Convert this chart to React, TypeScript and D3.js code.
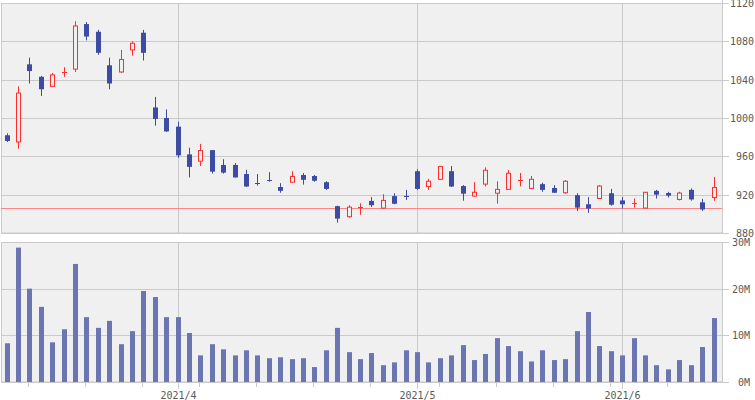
import React from "react";
import * as d3 from "d3";

// trading days (2021), one per candle
const dates = [
  "03-11", "03-12", "03-15", "03-16", "03-17", "03-18", "03-19", "03-22", "03-23", "03-24",
  "03-25", "03-26", "03-29", "03-30", "03-31", "04-01", "04-02", "04-05", "04-06", "04-07",
  "04-08", "04-09", "04-12", "04-13", "04-14", "04-15", "04-16", "04-19", "04-20", "04-21",
  "04-22", "04-23", "04-26", "04-27", "04-28", "04-30", "05-06", "05-07", "05-10", "05-11",
  "05-12", "05-13", "05-14", "05-17", "05-18", "05-19", "05-20", "05-21", "05-24", "05-25",
  "05-26", "05-27", "05-28", "05-31", "06-01", "06-02", "06-03", "06-04", "06-07", "06-08",
  "06-09", "06-10", "06-11",
];
const opens = [
  982, 975, 1056, 1043, 1033, 1048, 1051, 1098, 1090, 1055,
  1048, 1071, 1089, 1011, 1000, 991, 962, 955, 966.5, 951,
  951, 941.5, 932.5, 935.5, 928, 933, 940.5, 939.5, 933, 908,
  897, 906.5, 913.5, 906, 918.5, 918.5, 944.5, 928.5, 936, 944.5,
  929, 918.5, 931, 921.5, 925.5, 935, 926.5, 931, 927, 922,
  919.5, 910, 916, 921.5, 914, 911, 906, 924, 921.7, 915,
  925, 912, 917,
];
const highs = [
  984, 1033, 1063, 1044, 1047, 1053, 1101, 1100, 1092, 1063,
  1071, 1080, 1092, 1022, 1009, 996, 969, 973, 966.5, 957,
  953, 946, 941.5, 943.5, 932, 944.5, 942.5, 940.5, 934, 908.5,
  909, 911, 917.5, 920.5, 921.5, 925, 946.5, 936.5, 950, 950,
  930, 933, 948.5, 934, 945.7, 942.6, 939.5, 932.5, 930, 935.3,
  921.5, 917.5, 930, 926, 917.5, 916, 922.5, 925, 923, 923,
  926.5, 915.5, 938.5,
];
const lows = [
  975, 968, 1036, 1023, 1032.5, 1043, 1048, 1081, 1066, 1030,
  1047, 1065, 1060, 992, 985.5, 958.5, 938, 950, 942, 942,
  937.7, 928, 929.5, 933.5, 922, 933, 930.5, 933.5, 925, 890.7,
  896, 899, 907, 905.5, 910, 914.5, 925, 925, 935.5, 928,
  913.7, 918, 928.7, 910.6, 925, 928.7, 926, 923, 922, 921,
  903, 901, 916, 908.5, 905.5, 906.5, 905.8, 916, 917, 914,
  913.7, 903, 913.7,
];
const closes = [
  976, 1026, 1049, 1030, 1045, 1048.5, 1096, 1085, 1068, 1036,
  1061, 1078, 1068, 999, 986, 961, 949, 966, 944, 943,
  938, 928.5, 932, 935, 924, 939, 935.5, 934.5, 926, 895,
  907, 907, 909, 914, 910.5, 918, 926, 934, 949.5, 928.5,
  921, 922.5, 945.5, 925.5, 942.3, 935.3, 936, 925, 922, 934,
  906.5, 905.5, 929, 909.5, 910, 911.3, 922.5, 920, 919, 921.7,
  915, 904.5, 927.5,
];
// volume, millions of shares
const volumes = [
  8.3, 28.8, 20.0, 16.1, 8.5, 11.3, 25.3, 13.9, 11.6, 13.1,
  8.1, 10.9, 19.5, 18.2, 13.9, 13.9, 10.5, 5.7, 8.1, 7.0,
  5.7, 6.8, 5.7, 5.1, 5.3, 4.9, 5.1, 3.2, 6.8, 11.6,
  6.4, 4.9, 6.2, 3.6, 4.2, 6.8, 6.4, 4.2, 5.1, 5.7,
  7.9, 4.7, 6.0, 9.4, 7.7, 6.6, 4.4, 6.8, 4.7, 4.9,
  10.9, 15.0, 7.7, 6.6, 5.7, 9.4, 5.7, 3.6, 2.7, 4.7,
  3.6, 7.5, 13.7,
];
const priceTicks = [880, 920, 960, 1000, 1040, 1080, 1120];
const volTicks = [0, 10, 20, 30];
const refLine = 906;

const UP = "#ff2e2e";
const DOWN = "#3d4ca2";
const VOL = "#6b75b1";
const BG = "#f0f0f0";
const GRID = "#cacaca";
const TXT = "#5a5a5a";

function App() {
  const left = 1, right = 722;
  const x = d3.scaleLinear().domain([0, dates.length - 1]).range([6.5, 713.5]);
  const yP = d3.scaleLinear().domain([880, 1120]).range([233, 3]);
  const yV = d3.scaleLinear().domain([0, 30]).range([382, 242]);
  const cx = (i: number) => Math.round(x(i));

  const parsed = dates.map(d => new Date(`2021-${d}T00:00:00`));
  const monthStarts: number[] = [];
  const weekStarts: number[] = [];
  parsed.forEach((d, i) => {
    if (i === 0) return;
    const p = parsed[i - 1];
    if (d.getMonth() !== p.getMonth()) monthStarts.push(i);
    else if (d.getDay() < p.getDay()) weekStarts.push(i);
  });

  const font = { fontFamily: "'DejaVu Sans Mono', monospace", fontSize: 10, fill: TXT };

  return (
    <svg width={755} height={400} style={{ position: "absolute", left: 0, top: 0 }}>
      {/* price panel */}
      <rect x={left + 0.5} y={3.5} width={right - left} height={229.5} fill={BG} stroke={GRID} />
      {priceTicks.map(t => {
        const y = Math.round(yP(t)) + 0.5;
        return (
          <g key={t}>
            <line x1={left} x2={729} y1={y} y2={y} stroke={GRID} />
            <text x={754} y={y} dy="0.35em" textAnchor="end" style={font}>{t}</text>
          </g>
        );
      })}
      {monthStarts.map(i => (
        <line key={i} x1={cx(i) + 0.5} x2={cx(i) + 0.5} y1={3} y2={233} stroke={GRID} />
      ))}
      <line x1={right + 0.5} x2={right + 0.5} y1={0} y2={233} stroke={GRID} />
      <line x1={left} x2={right} y1={Math.round(yP(refLine)) + 0.5} y2={Math.round(yP(refLine)) + 0.5} stroke="#ff8585" />

      {dates.map((d, i) => {
        const up = closes[i] > opens[i];
        const c = up ? UP : DOWN;
        const top = yP(Math.max(opens[i], closes[i]));
        const bot = yP(Math.min(opens[i], closes[i]));
        const xc = cx(i);
        const doji = bot - top < 1.5;
        return (
          <g key={d}>
            <line x1={xc + 0.5} x2={xc + 0.5} y1={yP(highs[i])} y2={yP(lows[i])} stroke={c} />
            {doji ? (
              <line x1={xc - 2} x2={xc + 3} y1={Math.round(top) + 0.5} y2={Math.round(top) + 0.5} stroke={c} />
            ) : up ? (
              <rect x={xc - 1.5} y={top} width={4} height={bot - top} fill={BG} stroke={c} />
            ) : (
              <rect x={xc - 2} y={top} width={5} height={bot - top} fill={c} />
            )}
          </g>
        );
      })}

      {/* volume panel */}
      <rect x={left + 0.5} y={242.5} width={right - left} height={139.5} fill={BG} stroke={GRID} />
      {volTicks.map(t => {
        const y = Math.round(yV(t)) + 0.5;
        return (
          <g key={t}>
            <line x1={left} x2={729} y1={y} y2={y} stroke={GRID} />
            <text x={750} y={y} dy="0.35em" textAnchor="end" style={font}>{t}M</text>
          </g>
        );
      })}
      {monthStarts.map(i => (
        <g key={i}>
          <line x1={cx(i) + 0.5} x2={cx(i) + 0.5} y1={242} y2={389} stroke={GRID} />
          <text x={cx(i) + 0.5} y={399} textAnchor="middle" style={font}>
            {`2021/${parsed[i].getMonth() + 1}`}
          </text>
        </g>
      ))}
      {weekStarts.map(i => (
        <line key={i} x1={cx(i) - 0.5} x2={cx(i) - 0.5} y1={382} y2={387} stroke={GRID} />
      ))}
      <line x1={right + 0.5} x2={right + 0.5} y1={242} y2={382} stroke={GRID} />
      {volumes.map((v, i) => (
        <rect key={i} x={cx(i) - 2} y={yV(v)} width={5} height={yV(0) - yV(v)} fill={VOL} />
      ))}
    </svg>
  );
}

export default App;
